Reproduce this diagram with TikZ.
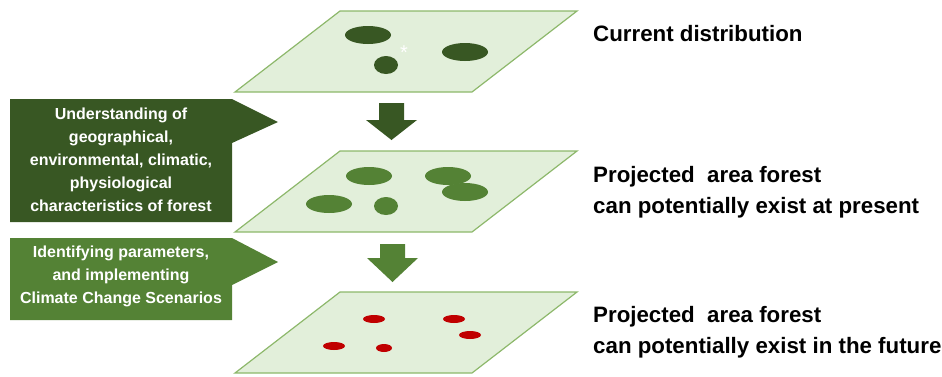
\documentclass[tikz,border=0pt]{standalone}
\usepackage{fontspec}
\setmainfont{Liberation Sans}
\definecolor{dkgreen}{HTML}{385723}
\definecolor{mdgreen}{HTML}{548235}
\definecolor{ltfill}{HTML}{E2EFDA}
\definecolor{planeedge}{HTML}{8DB86B}
\definecolor{fred}{HTML}{C00000}
\begin{document}
\begin{tikzpicture}[x=1pt,y=-1pt,
  plane/.style={fill=ltfill, draw=planeedge, line width=1.2pt, line join=miter},
  blobdark/.style={fill=dkgreen},
  blobmid/.style={fill=mdgreen},
  blobred/.style={fill=fred},
  calltext/.style={text=white, font=\bfseries\fontsize{16}{23}\selectfont, align=center, inner sep=0pt},
  righttext/.style={anchor=base west, inner sep=0pt, font=\bfseries\fontsize{22.3}{31}\selectfont}]
\useasboundingbox (0,0) rectangle (942,376);
% planes
\draw[plane] (340,11) -- (577,11) -- (472,92) -- (235,92) -- cycle;
\draw[plane] (340,151) -- (577,151) -- (472,232) -- (235,232) -- cycle;
\draw[plane] (340,292) -- (577,292) -- (472,373) -- (235,373) -- cycle;
% top blobs
\fill[blobdark] (368,35) ellipse [x radius=23, y radius=9];
\fill[blobdark] (465,52) ellipse [x radius=23, y radius=9];
\fill[blobdark] (386,65) ellipse [x radius=12, y radius=9];
\node[text=white, font=\fontsize{20}{20}\selectfont, inner sep=0pt] (star) at (404,53) {*};
% middle blobs
\fill[blobmid] (369,176) ellipse [x radius=23, y radius=9];
\fill[blobmid] (448,176) ellipse [x radius=23, y radius=9];
\fill[blobmid] (465,192) ellipse [x radius=23, y radius=9];
\fill[blobmid] (329,204) ellipse [x radius=23, y radius=9];
\fill[blobmid] (386,206) ellipse [x radius=12, y radius=9];
% bottom blobs
\fill[blobred] (374,319) ellipse [x radius=11, y radius=4];
\fill[blobred] (454,319) ellipse [x radius=11, y radius=4];
\fill[blobred] (470,335) ellipse [x radius=11, y radius=4];
\fill[blobred] (334,346) ellipse [x radius=11, y radius=4];
\fill[blobred] (384,348) ellipse [x radius=8, y radius=4];
% block arrows
\fill[dkgreen] (379,103) -- (404,103) -- (404,120) -- (417,120) -- (391.5,140) -- (366,120) -- (379,120) -- cycle;
\fill[mdgreen] (380,244) -- (405,244) -- (405,258) -- (418,258) -- (392.5,282) -- (367,258) -- (380,258) -- cycle;
% callouts
\fill[dkgreen] (10,99) -- (232,99) -- (278,122) -- (232,143) -- (232,222) -- (10,222) -- cycle;
\fill[mdgreen] (10,238) -- (232,238) -- (278,262) -- (232,285) -- (232,320) -- (10,320) -- cycle;
\node[calltext] (c1) at (121,160) {Understanding of\\geographical,\\environmental, climatic,\\physiological\\characteristics of forest};
\node[calltext] (c2) at (121,276) {Identifying parameters,\\and implementing\\Climate Change Scenarios};
% right labels
\node[righttext] (r1) at (593,41) {Current distribution};
\node[righttext] (r2a) at (593,182) {Projected\ \ area forest};
\node[righttext] (r2b) at (593,213) {can potentially exist at present};
\node[righttext] (r3a) at (593,322) {Projected\ \ area forest};
\node[righttext] (r3b) at (593,353) {can potentially exist in the future};
\end{tikzpicture}
\end{document}
